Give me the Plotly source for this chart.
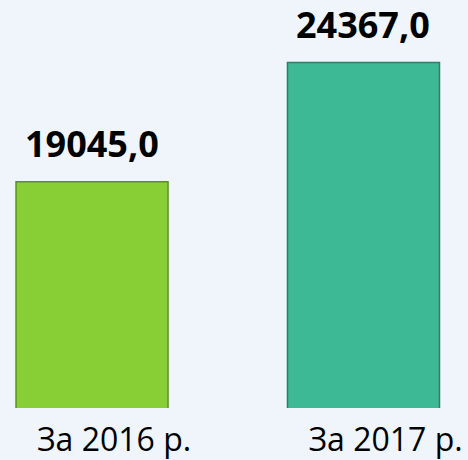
import plotly.graph_objects as go

categories = ["За 2016 р.", "За 2017 р."]
values = [19045.0, 24367.0]
value_labels = ["19045,0", "24367,0"]

fill_colors = ["#88cf36", "#3dba95"]
edge_colors = ["#5e8d28", "#2e7d67"]

fig = go.Figure()
fig.add_trace(go.Bar(
    x=categories,
    y=values,
    width=0.56,
    marker=dict(color=fill_colors, line=dict(color=edge_colors, width=1.5)),
    hoverinfo="skip",
))

for c, v, t in zip(categories, values, value_labels):
    fig.add_annotation(
        x=c, y=v, text="<b>" + t + "</b>", showarrow=False,
        yanchor="bottom", yshift=12,
        font=dict(family="Open Sans", size=36, color="#000000"),
    )

fig.update_layout(
    width=468, height=460,
    margin=dict(l=0, r=0, t=0, b=49),
    paper_bgcolor="#eff5fb",
    plot_bgcolor="rgba(0,0,0,0)",
    showlegend=False,
    xaxis=dict(
        type="category", range=[-0.339, 1.385],
        showgrid=False, zeroline=False, showline=False, ticks="",
        ticklabelshift=22, ticklabelstandoff=10,
        tickfont=dict(family="Open Sans", size=32, color="#000000"),
    ),
    yaxis=dict(range=[8933, 27161], visible=False, showgrid=False),
)

fig.write_html(
    "out.html",
    config={"displayModeBar": False},
    post_script="document.body.style.margin='0';document.body.style.overflow='hidden';",
)
